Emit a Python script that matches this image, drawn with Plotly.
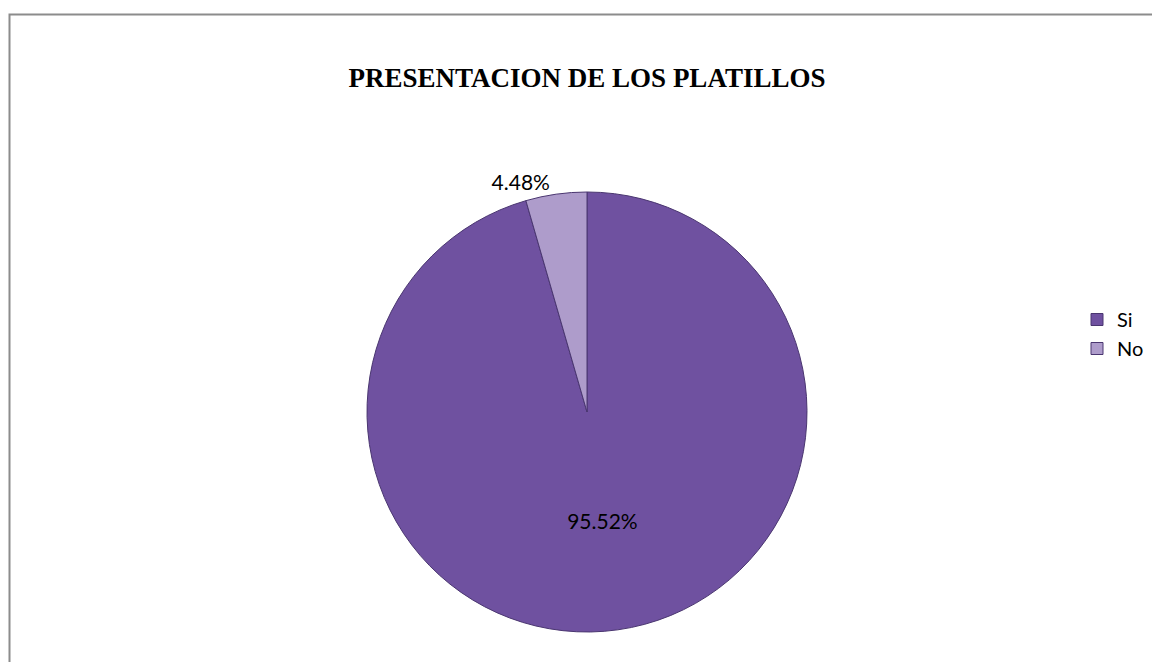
import plotly.graph_objects as go

labels = ["Si", "No"]
values = [95.52, 4.48]
colors = ["#6F51A0", "#AE9CCB"]
title_text = "PRESENTACION DE LOS PLATILLOS"

W, H = 1152, 662

fig = go.Figure(go.Pie(
    labels=labels,
    values=values,
    sort=False,
    direction="clockwise",
    rotation=0,
    marker=dict(colors=colors, line=dict(color="#4A3670", width=1)),
    texttemplate="%{value:.2f}%",
    textposition=["inside", "outside"],
    insidetextorientation="horizontal",
    textfont=dict(family="Lato, Open Sans, sans-serif", size=21, color="#000000"),
    domain=dict(x=[(587 - 220) / W, (587 + 220) / W], y=[(H - 632) / H, (H - 192) / H]),
    hoverinfo="label+percent",
    showlegend=True,
))

fig.update_layout(
    width=W, height=H,
    margin=dict(l=0, r=0, t=0, b=0),
    paper_bgcolor="white",
    plot_bgcolor="white",
    title=dict(
        text="<b>" + title_text + "</b>",
        x=587 / W, xanchor="center",
        y=1 - 78 / H, yanchor="middle",
        font=dict(family="Liberation Serif, Times New Roman, serif", size=27, color="#000000"),
    ),
    legend=dict(
        x=1077 / W, xanchor="left",
        y=1 - 300 / H, yanchor="top",
        font=dict(family="Lato, Open Sans, sans-serif", size=20, color="#000000"),
        bgcolor="rgba(0,0,0,0)",
        itemwidth=30,
    ),
    shapes=[dict(
        type="rect", xref="paper", yref="paper",
        x0=9.5 / W, x1=1.01, y0=-0.01, y1=1 - 14.5 / H,
        line=dict(color="#8C8C8C", width=2),
        fillcolor="rgba(0,0,0,0)",
    )],
)

fig.write_html("out.html")
